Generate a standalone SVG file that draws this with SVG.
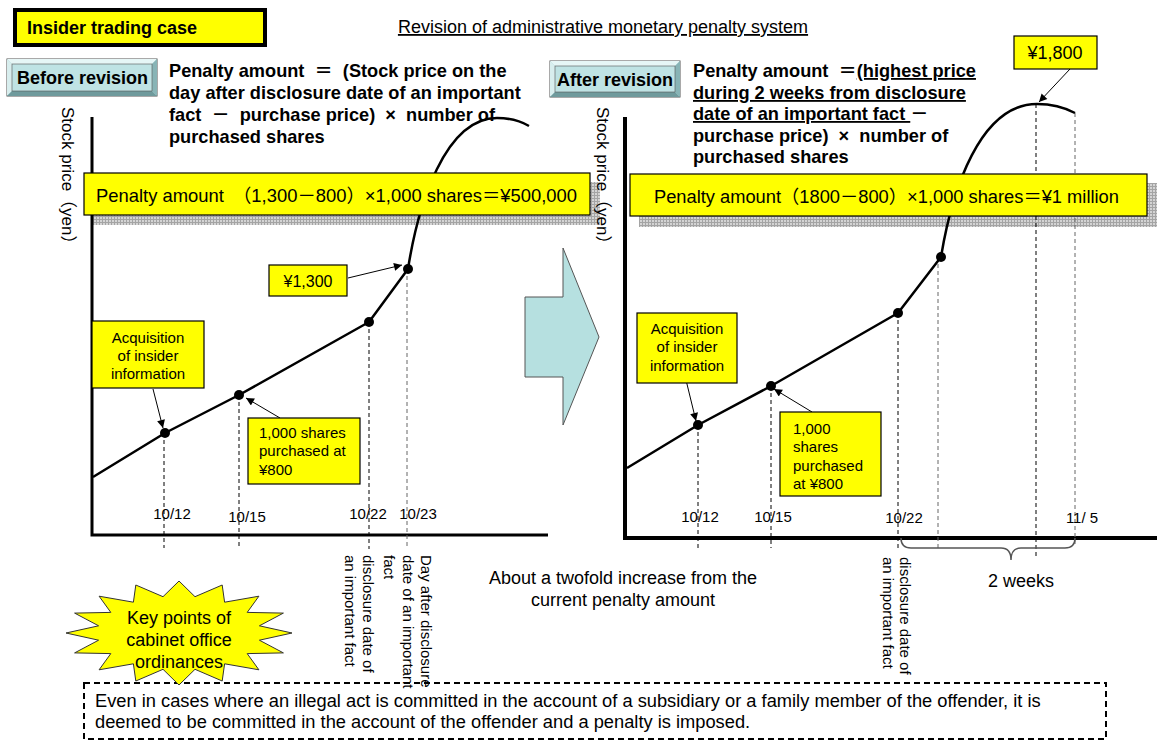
<svg xmlns="http://www.w3.org/2000/svg" width="1157" height="751" viewBox="0 0 1157 751">
<style>
.t{font-family:"Liberation Sans","Noto Sans CJK JP",sans-serif;fill:#000}
.b{font-weight:bold}
.yl{fill:#ffff00;stroke:#000;stroke-width:1.2}
.dash{stroke:#000;stroke-width:1;stroke-dasharray:4 3;fill:none}
.dashg{stroke:#666;stroke-width:1;stroke-dasharray:4 3;fill:none}
.price{stroke:#000;stroke-width:2.5;fill:none;stroke-linejoin:round}
.axis{stroke:#000;fill:none}
.arr{stroke:#000;stroke-width:1;fill:none;marker-end:url(#ah)}
.u{text-decoration:underline}
</style>
<defs>
<marker id="ah" viewBox="0 0 10 10" refX="10" refY="5" markerWidth="10" markerHeight="8" markerUnits="userSpaceOnUse" orient="auto">
<path d="M0,0 L10,5 L0,10 z" fill="#000"/>
</marker>
<pattern id="hatch" width="3" height="3" patternUnits="userSpaceOnUse">
<rect width="3" height="3" fill="#d4d4d4"/>
<path d="M0,0.5H3M0.5,0V3" stroke="#a4a4a4" stroke-width="1"/>
</pattern>
</defs>
<rect width="1157" height="751" fill="#fff"/>

<g id="title">
<rect x="15" y="10" width="250" height="35" fill="#ffff00" stroke="#000" stroke-width="4"/>
<text class="t b" x="27" y="34" font-size="18">Insider trading case</text>
</g>
<g id="heading">
<text class="t u" x="603" y="33" font-size="18" text-anchor="middle">Revision of administrative monetary penalty system</text>
</g>

<g id="before-button">
<rect x="7" y="59" width="150" height="37" fill="#a8d4d6" stroke="#555" stroke-width="1"/>
<polygon points="7,59 157,59 152,64 12,64" fill="#e6f6f6"/>
<polygon points="7,59 12,64 12,91 7,96" fill="#d8eeee"/>
<polygon points="7,96 12,91 152,91 157,96" fill="#6f9a9c"/>
<polygon points="157,59 157,96 152,91 152,64" fill="#88b4b6"/>
<rect x="12" y="64" width="140" height="27" fill="#bfe3e4" stroke="#555" stroke-width="0.6"/>
<text class="t b" x="17" y="84" font-size="18">Before revision</text>
</g>
<g id="before-formula" font-size="18.2">
<text class="t b" x="169" y="77" xml:space="preserve">Penalty amount  ＝  (Stock price on the</text>
<text class="t b" x="169" y="99">day after disclosure date of an important</text>
<text class="t b" x="169" y="121" xml:space="preserve">fact  －  purchase price)  ×  number of</text>
<text class="t b" x="169" y="143">purchased shares</text>
</g>

<g id="after-button">
<rect x="550" y="61" width="130" height="36" fill="#a8d4d6" stroke="#555" stroke-width="1"/>
<polygon points="550,61 680,61 675,66 555,66" fill="#e6f6f6"/>
<polygon points="550,61 555,66 555,92 550,97" fill="#d8eeee"/>
<polygon points="550,97 555,92 675,92 680,97" fill="#6f9a9c"/>
<polygon points="680,61 680,97 675,92 675,66" fill="#88b4b6"/>
<rect x="555" y="66" width="120" height="26" fill="#bfe3e4" stroke="#555" stroke-width="0.6"/>
<text class="t b" x="557" y="86" font-size="18">After revision</text>
</g>
<g id="after-formula" font-size="18.2">
<text class="t b" x="693" y="77" xml:space="preserve">Penalty amount  ＝<tspan class="u">(highest price</tspan></text>
<text class="t b u" x="693" y="99">during 2 weeks from disclosure</text>
<text class="t b" x="693" y="120" xml:space="preserve"><tspan class="u">date of an important fact </tspan>－</text>
<text class="t b" x="693" y="142" xml:space="preserve">purchase price)  ×  number of</text>
<text class="t b" x="693" y="163">purchased shares</text>
</g>

<!-- shadows of penalty boxes -->
<rect x="92" y="182" width="508" height="43" fill="url(#hatch)"/>
<rect x="639" y="183" width="518" height="44" fill="url(#hatch)"/>

<g id="connectors">
<!-- left chart -->
<path class="axis" d="M92,117 V535 H548" stroke-width="3"/>
<line class="dash" x1="164" y1="433" x2="164" y2="548"/>
<line class="dash" x1="239" y1="395" x2="239" y2="546"/>
<line class="dash" x1="369" y1="322" x2="369" y2="549"/>
<line class="dashg" x1="407" y1="269" x2="407" y2="549"/>
<path class="price" d="M93,477 L165,433 L239,395 L369,322 L408,269 C418,205 445,118 497,118 Q515,118 529,126"/>
<circle cx="165" cy="433" r="5"/>
<circle cx="239" cy="395" r="5"/>
<circle cx="369" cy="322" r="5"/>
<circle cx="408" cy="269" r="5"/>
<line class="arr" x1="153" y1="389" x2="163" y2="428"/>
<line class="arr" x1="280" y1="418" x2="246" y2="398"/>
<line class="arr" x1="348" y1="278" x2="402" y2="265"/>
<!-- right chart -->
<path class="axis" d="M625,117 V538 H1157" stroke-width="4"/>
<line class="dash" x1="698" y1="425" x2="698" y2="548"/>
<line class="dash" x1="771" y1="386" x2="771" y2="548"/>
<line class="dash" x1="898" y1="313" x2="898" y2="549"/>
<line class="dashg" x1="938" y1="257" x2="938" y2="549"/>
<line class="dash" x1="1036" y1="104" x2="1036" y2="558"/>
<line class="dashg" x1="1075" y1="113" x2="1075" y2="546"/>
<path class="price" d="M627,468 L698,425 L771,386 L898,313 L941,257 C952,190 980,104 1037,104 Q1058,104 1075,113"/>
<circle cx="698" cy="425" r="5"/>
<circle cx="771" cy="386" r="5"/>
<circle cx="898" cy="313" r="5"/>
<circle cx="941" cy="257" r="5"/>
<line class="arr" x1="686" y1="380" x2="696" y2="421"/>
<line class="arr" x1="812" y1="412" x2="774" y2="389"/>
<line class="arr" x1="1070" y1="69" x2="1039" y2="102"/>
<path d="M901,538 Q901,548 911,548 L1001,548 Q1011,548 1011,560 Q1011,548 1021,548 L1065,548 Q1075,548 1075,538" fill="none" stroke="#555" stroke-width="1.5"/>
</g>

<g id="left-penalty">
<rect class="yl" x="84" y="173" width="506" height="42"/>
<text class="t" x="96" y="202" font-size="18.4">Penalty amount　（1,300－800）×1,000 shares＝¥500,000</text>
</g>
<g id="right-penalty">
<rect class="yl" x="630" y="174" width="517" height="42"/>
<text class="t" x="654" y="203" font-size="18.3">Penalty amount（1800－800）×1,000 shares＝¥1 million</text>
</g>

<g id="left-yaxis-label">
<text class="t" font-size="17" transform="translate(62,107) rotate(90)">Stock price（yen）</text>
</g>
<g id="right-yaxis-label">
<text class="t" font-size="17" transform="translate(597,107) rotate(90)">Stock price（yen）</text>
</g>

<g id="left-acquisition">
<rect class="yl" x="92" y="321" width="112" height="67"/>
<text class="t" font-size="15" text-anchor="middle"><tspan x="148" y="343">Acquisition</tspan><tspan x="148" y="361">of insider</tspan><tspan x="148" y="379">information</tspan></text>
</g>
<g id="left-purchase">
<rect class="yl" x="248" y="418" width="112" height="66"/>
<text class="t" font-size="15"><tspan x="259" y="438">1,000 shares</tspan><tspan x="259" y="456">purchased at</tspan><tspan x="259" y="475">¥800</tspan></text>
</g>
<g id="left-1300">
<rect class="yl" x="269" y="265" width="78" height="31"/>
<text class="t" x="308" y="287" font-size="16" text-anchor="middle">¥1,300</text>
</g>
<g id="left-dates" font-size="15">
<text class="t" x="172" y="519" text-anchor="middle">10/12</text>
<text class="t" x="247" y="522" text-anchor="middle">10/15</text>
<text class="t" x="368" y="519" text-anchor="middle">10/22</text>
<text class="t" x="418" y="519" text-anchor="middle">10/23</text>
</g>

<g id="right-acquisition">
<rect class="yl" x="637" y="313" width="100" height="70"/>
<text class="t" font-size="15" text-anchor="middle"><tspan x="687" y="334">Acquisition</tspan><tspan x="687" y="352">of insider</tspan><tspan x="687" y="371">information</tspan></text>
</g>
<g id="right-purchase">
<rect class="yl" x="780" y="412" width="101" height="84"/>
<text class="t" font-size="15"><tspan x="793" y="434">1,000</tspan><tspan x="793" y="452">shares</tspan><tspan x="793" y="471">purchased</tspan><tspan x="793" y="489">at ¥800</tspan></text>
</g>
<g id="right-1800">
<rect class="yl" x="1014" y="36" width="83" height="33"/>
<text class="t" x="1055" y="59" font-size="18" text-anchor="middle">¥1,800</text>
</g>
<g id="right-dates" font-size="15">
<text class="t" x="700" y="522" text-anchor="middle">10/12</text>
<text class="t" x="773" y="522" text-anchor="middle">10/15</text>
<text class="t" x="904" y="523" text-anchor="middle">10/22</text>
<text class="t" x="1082" y="523" text-anchor="middle">11/ 5</text>
</g>
<g id="two-weeks">
<text class="t" x="1021" y="587" font-size="18" text-anchor="middle">2 weeks</text>
</g>

<g id="arrow-shape">
<polygon points="525,297 563,297 563,248 599,337 563,425 563,377 525,377" fill="#b6e0e0" stroke="#555" stroke-width="1"/>
</g>
<g id="increase-note">
<text class="t" font-size="18" text-anchor="middle"><tspan x="623" y="584">About a twofold increase from the</tspan><tspan x="623" y="606">current penalty amount</tspan></text>
</g>

<g id="note-box">
<rect x="84" y="683" width="1022" height="56" fill="#fff" stroke="#000" stroke-width="2" stroke-dasharray="6 4"/>
<text class="t" font-size="18.3"><tspan x="95" y="707">Even in cases where an illegal act is committed in the account of a subsidiary or a family member of the offender, it is</tspan><tspan x="95" y="728">deemed to be committed in the account of the offender and a penalty is imposed.</tspan></text>
</g>

<g id="left-vertical-labels" font-size="15">
<text class="t" transform="translate(363,555) rotate(90)"><tspan x="0" y="0">disclosure date of</tspan><tspan x="0" y="18">an important fact</tspan></text>
<text class="t" transform="translate(421,555) rotate(90)"><tspan x="0" y="0">Day after disclosure</tspan><tspan x="0" y="18.5">date of an important</tspan><tspan x="0" y="37">fact</tspan></text>
</g>
<g id="right-vertical-labels" font-size="15">
<text class="t" transform="translate(900,557) rotate(90)"><tspan x="0" y="0">disclosure date of</tspan><tspan x="0" y="17">an important fact</tspan></text>
</g>

<g id="key-points">
<polygon points="179,581 195,596.7 222.2,585 224.6,602.2 258.9,596.2 247.2,612.4 283.4,613.1 259.4,625.8 292,633 259.4,640.2 283.4,652.9 247.2,653.6 258.9,669.8 224.6,663.8 222.2,681 195,669.3 179,685 163,669.3 135.8,681 133.4,663.8 99.1,669.8 110.8,653.6 74.6,652.9 98.6,640.2 66,633 98.6,625.8 74.6,613.1 110.8,612.4 99.1,596.2 133.4,602.2 135.8,585 163,596.7" fill="#ffff00" stroke="#333" stroke-width="1"/>
<text class="t" font-size="18" text-anchor="middle"><tspan x="179" y="624">Key points of</tspan><tspan x="179" y="646">cabinet office</tspan><tspan x="179" y="668">ordinances</tspan></text>
</g>
</svg>
